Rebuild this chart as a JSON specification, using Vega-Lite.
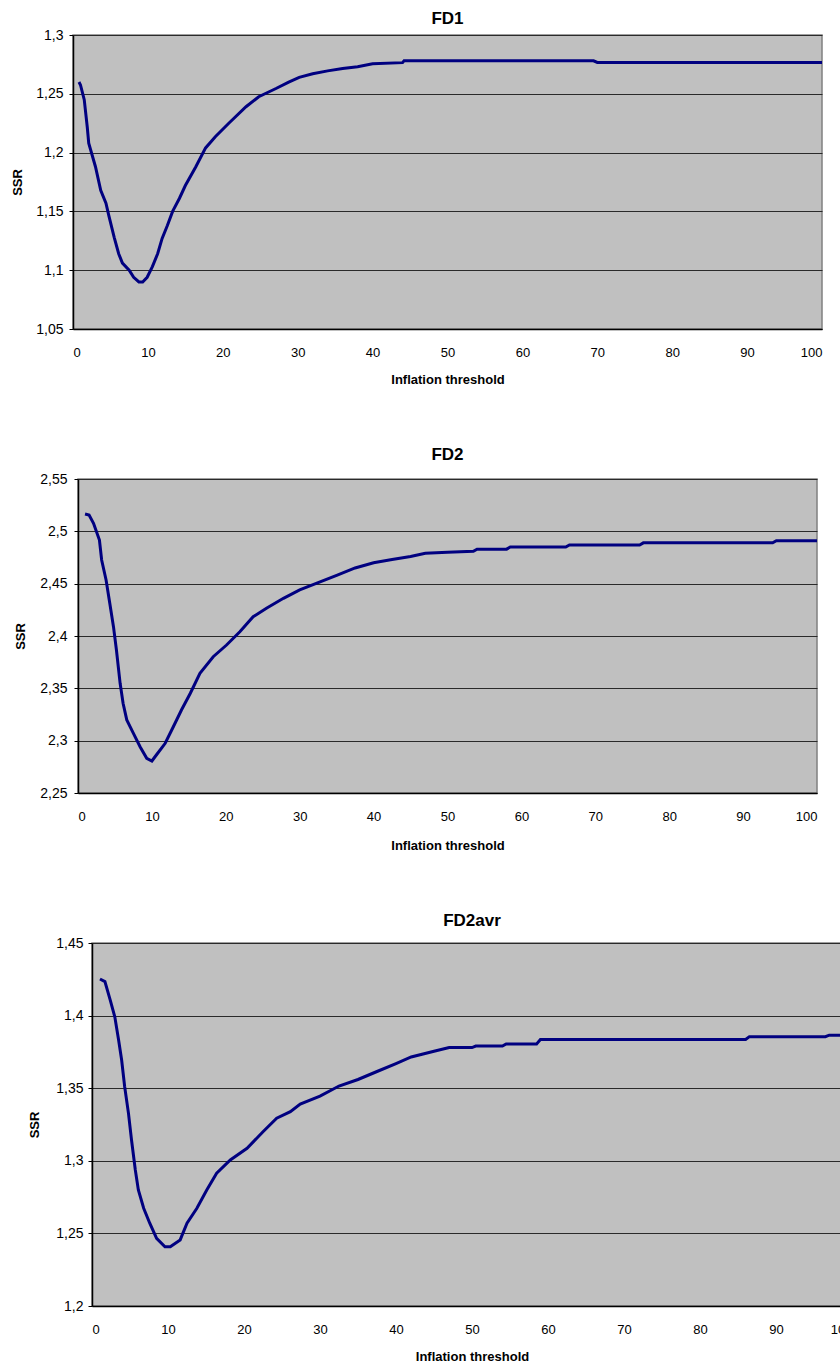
{
  "$schema": "https://vega.github.io/schema/vega-lite/v6.json",
  "background": "white",
  "padding": {"top": 9, "left": 0, "right": 0, "bottom": 0},
  "config": {
    "font": "Liberation Sans",
    "view": {"fill": "#C0C0C0", "stroke": "#808080", "strokeWidth": 1.5},
    "axis": {
      "labelFont": "Liberation Sans",
      "titleFont": "Liberation Sans",
      "labelColor": "black",
      "titleColor": "black",
      "domainColor": "black",
      "domainWidth": 1.5,
      "tickColor": "black",
      "gridColor": "#2a2a2a",
      "gridWidth": 1,
      "gridOpacity": 1,
      "titleFontWeight": "bold",
      "titleFontSize": 13
    },
    "axisX": {"labelFontSize": 13, "ticks": false, "labelPadding": 17, "titlePadding": 14, "grid": false},
    "axisY": {"labelFontSize": 14, "tickSize": 4, "labelPadding": 6, "grid": true, "titlePadding": 11},
    "title": {"font": "Liberation Sans", "fontSize": 17, "fontWeight": "bold", "color": "black", "anchor": "middle"}
  },
  "datasets": {
    "none": [],
    "fd1": [
      {"threshold": 0.8, "ssr": 1.26}, {"threshold": 1.0, "ssr": 1.2575}, {"threshold": 1.5, "ssr": 1.245},
      {"threshold": 1.9, "ssr": 1.222}, {"threshold": 2.1, "ssr": 1.208}, {"threshold": 3.0, "ssr": 1.188},
      {"threshold": 3.7, "ssr": 1.168}, {"threshold": 4.4, "ssr": 1.157}, {"threshold": 4.8, "ssr": 1.146},
      {"threshold": 5.5, "ssr": 1.128}, {"threshold": 6.1, "ssr": 1.114}, {"threshold": 6.6, "ssr": 1.106},
      {"threshold": 7.5, "ssr": 1.1}, {"threshold": 8.1, "ssr": 1.094}, {"threshold": 8.8, "ssr": 1.09},
      {"threshold": 9.3, "ssr": 1.09}, {"threshold": 9.9, "ssr": 1.094}, {"threshold": 10.6, "ssr": 1.103},
      {"threshold": 11.3, "ssr": 1.114}, {"threshold": 11.9, "ssr": 1.127}, {"threshold": 12.6, "ssr": 1.138},
      {"threshold": 13.3, "ssr": 1.15}, {"threshold": 14.2, "ssr": 1.161}, {"threshold": 15.0, "ssr": 1.172},
      {"threshold": 16.4, "ssr": 1.188}, {"threshold": 17.7, "ssr": 1.204}, {"threshold": 19.0, "ssr": 1.2135},
      {"threshold": 20.8, "ssr": 1.225}, {"threshold": 23.1, "ssr": 1.239}, {"threshold": 24.8, "ssr": 1.2475},
      {"threshold": 27.1, "ssr": 1.2545}, {"threshold": 28.8, "ssr": 1.26}, {"threshold": 30.2, "ssr": 1.264},
      {"threshold": 32, "ssr": 1.267}, {"threshold": 34, "ssr": 1.2695}, {"threshold": 36, "ssr": 1.2715},
      {"threshold": 38, "ssr": 1.273}, {"threshold": 40, "ssr": 1.2755}, {"threshold": 44, "ssr": 1.2765},
      {"threshold": 44.2, "ssr": 1.278}, {"threshold": 55, "ssr": 1.278}, {"threshold": 69.5, "ssr": 1.278},
      {"threshold": 70, "ssr": 1.2767}, {"threshold": 80, "ssr": 1.2767}, {"threshold": 100, "ssr": 1.2767}
    ],
    "fd2": [
      {"threshold": 0.95, "ssr": 2.5166}, {"threshold": 1.5, "ssr": 2.5156}, {"threshold": 2.1, "ssr": 2.5077},
      {"threshold": 2.9, "ssr": 2.4917}, {"threshold": 3.2, "ssr": 2.4726}, {"threshold": 3.8, "ssr": 2.4535},
      {"threshold": 4.3, "ssr": 2.4312}, {"threshold": 4.8, "ssr": 2.4089}, {"threshold": 5.2, "ssr": 2.3866},
      {"threshold": 5.7, "ssr": 2.3548}, {"threshold": 6.1, "ssr": 2.3357}, {"threshold": 6.6, "ssr": 2.3198},
      {"threshold": 7.5, "ssr": 2.307}, {"threshold": 8.4, "ssr": 2.2942}, {"threshold": 9.3, "ssr": 2.2832},
      {"threshold": 10.0, "ssr": 2.2806}, {"threshold": 10.6, "ssr": 2.2863}, {"threshold": 11.8, "ssr": 2.2975},
      {"threshold": 12.9, "ssr": 2.3133}, {"threshold": 14.0, "ssr": 2.3293}, {"threshold": 15.2, "ssr": 2.3453},
      {"threshold": 16.5, "ssr": 2.3644}, {"threshold": 18.3, "ssr": 2.3802}, {"threshold": 20.1, "ssr": 2.3914},
      {"threshold": 21.9, "ssr": 2.4041}, {"threshold": 23.7, "ssr": 2.4184}, {"threshold": 25.5, "ssr": 2.4265},
      {"threshold": 27.8, "ssr": 2.436}, {"threshold": 30.0, "ssr": 2.444}, {"threshold": 32.5, "ssr": 2.451},
      {"threshold": 35, "ssr": 2.458}, {"threshold": 37.5, "ssr": 2.465}, {"threshold": 40, "ssr": 2.47},
      {"threshold": 42.5, "ssr": 2.473}, {"threshold": 45, "ssr": 2.476}, {"threshold": 47, "ssr": 2.479},
      {"threshold": 50, "ssr": 2.48}, {"threshold": 53.5, "ssr": 2.481}, {"threshold": 54, "ssr": 2.483},
      {"threshold": 58, "ssr": 2.483}, {"threshold": 58.5, "ssr": 2.485}, {"threshold": 66, "ssr": 2.485},
      {"threshold": 66.5, "ssr": 2.487}, {"threshold": 76, "ssr": 2.487}, {"threshold": 76.5, "ssr": 2.489},
      {"threshold": 94, "ssr": 2.489}, {"threshold": 94.5, "ssr": 2.491}, {"threshold": 100, "ssr": 2.491}
    ],
    "fd2avr": [
      {"threshold": 1.05, "ssr": 1.4252}, {"threshold": 1.7, "ssr": 1.4234}, {"threshold": 2.4, "ssr": 1.4107},
      {"threshold": 3.0, "ssr": 1.3992}, {"threshold": 3.5, "ssr": 1.3832}, {"threshold": 3.9, "ssr": 1.3694},
      {"threshold": 4.3, "ssr": 1.351}, {"threshold": 4.8, "ssr": 1.3327}, {"threshold": 5.2, "ssr": 1.3143},
      {"threshold": 5.7, "ssr": 1.2937}, {"threshold": 6.1, "ssr": 1.2799}, {"threshold": 6.8, "ssr": 1.2673},
      {"threshold": 7.6, "ssr": 1.257}, {"threshold": 8.5, "ssr": 1.2466}, {"threshold": 9.6, "ssr": 1.2408},
      {"threshold": 10.3, "ssr": 1.2408}, {"threshold": 11.6, "ssr": 1.2455}, {"threshold": 12.5, "ssr": 1.257},
      {"threshold": 13.8, "ssr": 1.2673}, {"threshold": 15.1, "ssr": 1.2799}, {"threshold": 16.4, "ssr": 1.2914},
      {"threshold": 18.2, "ssr": 1.3006}, {"threshold": 20.4, "ssr": 1.3086}, {"threshold": 22.5, "ssr": 1.32},
      {"threshold": 24.3, "ssr": 1.3293}, {"threshold": 26.1, "ssr": 1.3338}, {"threshold": 27.4, "ssr": 1.3391},
      {"threshold": 30, "ssr": 1.3445}, {"threshold": 32.5, "ssr": 1.3515}, {"threshold": 35, "ssr": 1.356},
      {"threshold": 37.5, "ssr": 1.3615}, {"threshold": 40, "ssr": 1.367}, {"threshold": 42, "ssr": 1.3715},
      {"threshold": 45, "ssr": 1.3755}, {"threshold": 47, "ssr": 1.378}, {"threshold": 50, "ssr": 1.378},
      {"threshold": 50.5, "ssr": 1.379}, {"threshold": 54, "ssr": 1.379}, {"threshold": 54.5, "ssr": 1.3805},
      {"threshold": 58.5, "ssr": 1.3805}, {"threshold": 59, "ssr": 1.3835}, {"threshold": 86, "ssr": 1.3835},
      {"threshold": 86.5, "ssr": 1.3855}, {"threshold": 96.5, "ssr": 1.3855}, {"threshold": 97, "ssr": 1.3865},
      {"threshold": 100, "ssr": 1.3865}
    ]
  },
  "bounds": "full",
  "spacing": 58,
  "vconcat": [
    {
      "spacing": 0,
      "hconcat": [
        {"width": 11, "height": 1, "view": {"fill": null, "stroke": null}, "data": {"name": "none"}, "mark": {"type": "point", "opacity": 0}},
        {
          "width": 749,
          "height": 294,
          "title": {"text": "FD1", "offset": 0},
          "data": {"name": "fd1"},
          "mark": {"type": "line", "color": "#000080", "strokeWidth": 3, "clip": true},
          "encoding": {
            "x": {"field": "threshold", "type": "quantitative", "scale": {"domain": [0, 100], "nice": false},
                  "axis": {"title": "Inflation threshold", "values": [0, 10, 20, 30, 40, 50, 60, 70, 80, 90, 100]}},
            "y": {"field": "ssr", "type": "quantitative", "scale": {"domain": [1.05, 1.3], "nice": false, "zero": false},
                  "axis": {"title": "SSR", "values": [1.05, 1.1, 1.15, 1.2, 1.25, 1.3],
                           "labelExpr": "replace(format(datum.value, '~g'), '.', ',')"}}
          }
        }
      ]
    },
    {
      "spacing": 0,
      "hconcat": [
        {"width": 14, "height": 1, "view": {"fill": null, "stroke": null}, "data": {"name": "none"}, "mark": {"type": "point", "opacity": 0}},
        {
          "width": 739,
          "height": 314,
          "title": {"text": "FD2", "offset": 8},
          "data": {"name": "fd2"},
          "mark": {"type": "line", "color": "#000080", "strokeWidth": 3, "clip": true},
          "encoding": {
            "x": {"field": "threshold", "type": "quantitative", "scale": {"domain": [0, 100], "nice": false},
                  "axis": {"title": "Inflation threshold", "titlePadding": 16, "values": [0, 10, 20, 30, 40, 50, 60, 70, 80, 90, 100]}},
            "y": {"field": "ssr", "type": "quantitative", "scale": {"domain": [2.25, 2.55], "nice": false, "zero": false},
                  "axis": {"title": "SSR", "labelPadding": 7, "titlePadding": 12,
                           "values": [2.25, 2.3, 2.35, 2.4, 2.45, 2.5, 2.55],
                           "labelExpr": "replace(format(datum.value, '~g'), '.', ',')"}}
          }
        }
      ]
    },
    {
      "spacing": 0,
      "hconcat": [
        {"width": 28, "height": 1, "view": {"fill": null, "stroke": null}, "data": {"name": "none"}, "mark": {"type": "point", "opacity": 0}},
        {
          "width": 760,
          "height": 363,
          "title": {"text": "FD2avr", "offset": 6},
          "data": {"name": "fd2avr"},
          "mark": {"type": "line", "color": "#000080", "strokeWidth": 3, "clip": true},
          "encoding": {
            "x": {"field": "threshold", "type": "quantitative", "scale": {"domain": [0, 100], "nice": false},
                  "axis": {"title": "Inflation threshold", "values": [0, 10, 20, 30, 40, 50, 60, 70, 80, 90, 100]}},
            "y": {"field": "ssr", "type": "quantitative", "scale": {"domain": [1.2, 1.45], "nice": false, "zero": false},
                  "axis": {"title": "SSR", "labelPadding": 5, "titlePadding": 14,
                           "values": [1.2, 1.25, 1.3, 1.35, 1.4, 1.45],
                           "labelExpr": "replace(format(datum.value, '~g'), '.', ',')"}}
          }
        }
      ]
    }
  ]
}
